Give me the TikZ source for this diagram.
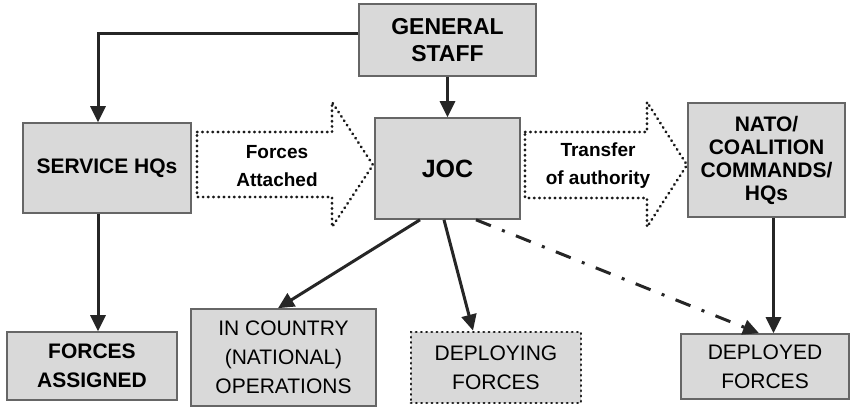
\documentclass[tikz,border=0pt]{standalone}
\usepackage{fontspec}
\setmainfont{Liberation Sans}
\usetikzlibrary{arrows.meta}

\begin{document}
\begin{tikzpicture}[x=0.5pt,y=-0.5pt,>={Triangle[length=8pt,width=7.5pt]},
      box/.style={rectangle,draw=black!60,fill=black!15,line width=0.8pt,
        align=center,inner sep=1pt,font=\fontsize{10.5}{14.5}\selectfont},
      bold box/.style={box,font=\fontsize{10.5}{14.5}\selectfont\bfseries},
      dots/.style={draw=black!90,line width=1.4pt,line cap=round,dash pattern=on 0.2pt off 2.4pt},
      dotted box/.style={box,dots},
      fat arrow/.style={dots},
      fat label/.style={align=center,font=\fontsize{9.5}{14}\selectfont\bfseries},
      link/.style={->,draw=black!85,line width=1.5pt},
      dashdot link/.style={link,dash pattern=on 8pt off 6pt on 1.5pt off 6pt}]
 \useasboundingbox (0,0) rectangle (852,407);

 \node[bold box, minimum width=88.5pt, minimum height=36pt,
   font=\fontsize{11.5}{13.5}\selectfont\bfseries] (gs) at (447.5,40) {GENERAL\\STAFF};
 \node[bold box, minimum width=84pt, minimum height=45pt] (shq) at (107,168) {SERVICE HQs};
 \node[bold box, minimum width=72.5pt, minimum height=50.5pt,
   font=\fontsize{12.5}{14}\selectfont\bfseries] (joc) at (447.5,168.5) {JOC};
 \node[bold box, minimum width=78.5pt, minimum height=57pt,
   font=\fontsize{10.5}{11.5}\selectfont\bfseries] (nato) at (766.5,160) {NATO/\\COALITION\\COMMANDS/\\HQs};
 \node[bold box, minimum width=85pt, minimum height=34pt] (fa) at (92,366) {FORCES\\ASSIGNED};
 \node[box, minimum width=92.5pt, minimum height=48.5pt] (icn) at (283.5,357.5) {IN COUNTRY\\(NATIONAL)\\OPERATIONS};
 \node[dotted box, minimum width=85pt, minimum height=35.5pt] (dep) at (496,367.5) {DEPLOYING\\FORCES};
 \node[box, minimum width=84pt, minimum height=32.5pt] (dpd) at (765,366.5) {DEPLOYED\\FORCES};

 % big dotted arrows
 \draw[fat arrow] (197,132) -- (332,132) -- (332,102) -- (373,165) -- (332,227)
   -- (332,197) -- (197,197) -- cycle;
 \node[fat label] (att) at (277,166) {Forces\\Attached};
 \draw[fat arrow] (525,132) -- (647,132) -- (647,102) -- (687,165) -- (647,227)
   -- (647,198) -- (525,198) -- cycle;
 \node[fat label] (toa) at (598,166) {Transfer\\of authority};

 \draw[link] ([yshift=3.5pt]gs.west) -| ([xshift=-4.5pt]shq.north);
 \draw[link] (gs.south) -- (joc.north);
 \draw[link] ([xshift=-4.5pt]shq.south) -- ([xshift=-4.5pt]shq.south |- fa.north);
 \draw[link] ([xshift=-13.75pt]joc.south) -- ([xshift=-2.75pt]icn.north);
 \draw[link] ([xshift=-1.75pt]joc.south) -- ([xshift=-11.5pt]dep.north);
 \draw[dashdot link] ([xshift=14.25pt]joc.south) -- ([xshift=-3pt]dpd.north);
 \draw[link] ([xshift=3.5pt]nato.south) -- ([xshift=3.5pt]nato.south |- dpd.north);
\end{tikzpicture}
\end{document}
